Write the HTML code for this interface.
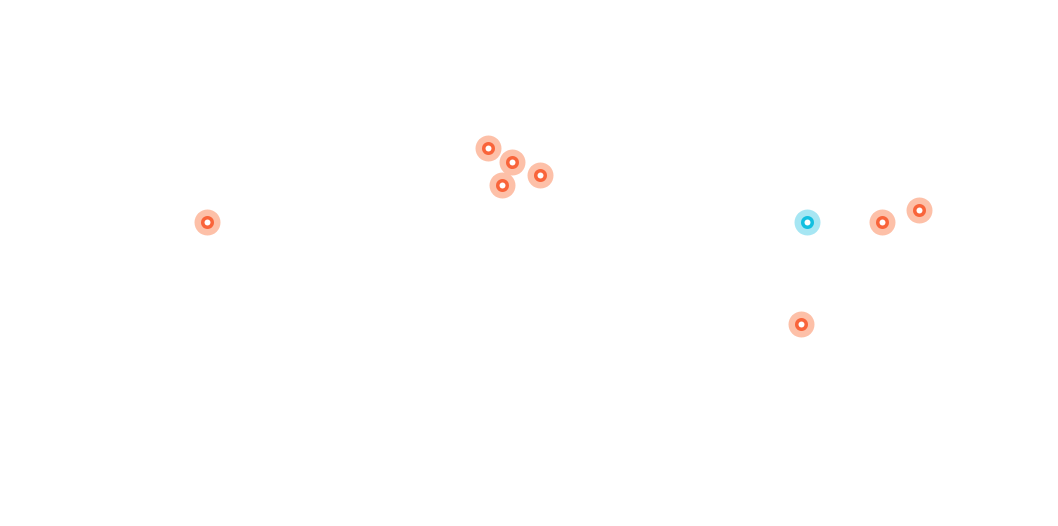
<!DOCTYPE html>
<html><head><meta charset="utf-8"><style>html,body{margin:0;padding:0;background:#fff;}svg{display:block}</style></head>
<body>
<svg width="1058" height="526" viewBox="0 0 1058 526">
<defs>
<g id="o"><circle r="13" fill="#fdc0a8"/><circle r="6.5" fill="#f9643a"/><circle r="3" fill="#fff"/></g>
<g id="b"><circle r="13" fill="#a6e6f3"/><circle r="6.5" fill="#13bfe0"/><circle r="3" fill="#fff"/></g>
</defs>
<g transform="translate(0.5,0.5)">
<use href="#o" x="207" y="222"/>
<use href="#o" x="488" y="148"/>
<use href="#o" x="512" y="162"/>
<use href="#o" x="540" y="175"/>
<use href="#o" x="502" y="185"/>
<use href="#b" x="807" y="222"/>
<use href="#o" x="882" y="222"/>
<use href="#o" x="919" y="210"/>
<use href="#o" x="801" y="324"/>
</g>
</svg>
</body></html>
